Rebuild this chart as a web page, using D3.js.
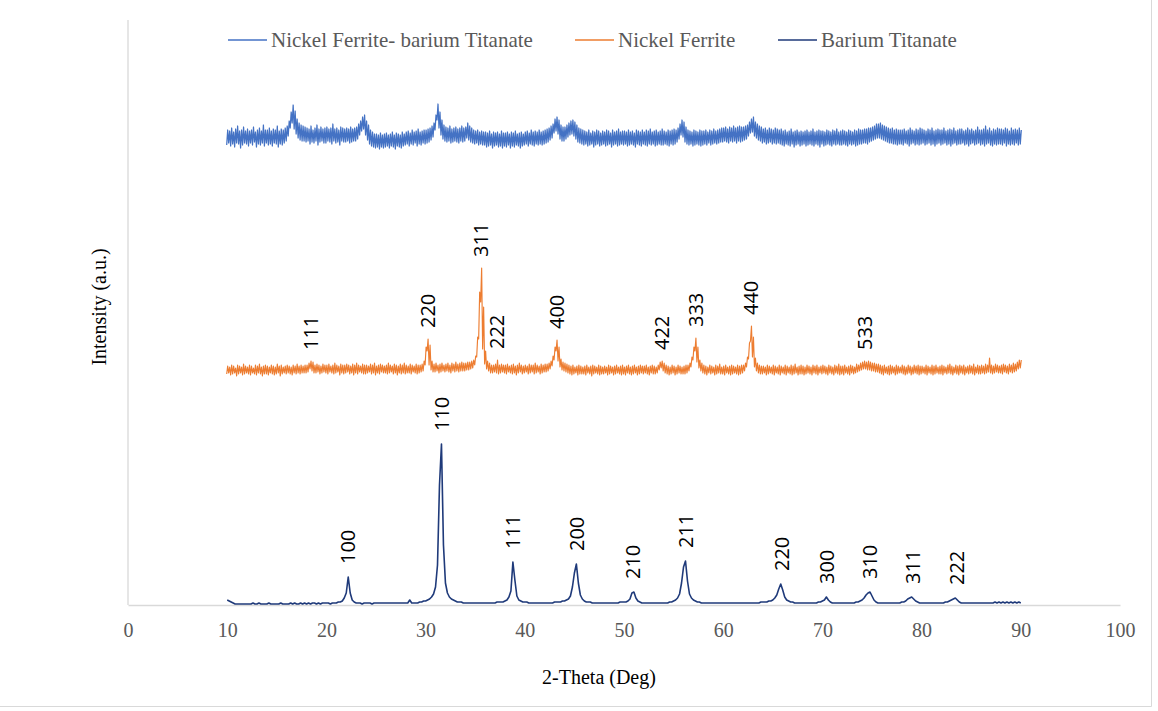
<!DOCTYPE html>
<html>
<head>
<meta charset="utf-8">
<script src="https://cdn.jsdelivr.net/npm/d3@7"></script>
<style>
  body { margin: 0; background: #fff; }
  svg { display: block; }
</style>
</head>
<body>
<svg id="chart" width="1158" height="711"></svg>
<script>
// Scan grid: 10° to 90° in 0.2° bins (401 bins per pattern)
const thetaStart = 10;
const thetaStep = 0.2;

// Nickel Ferrite - Barium Titanate composite: max / min counts in each bin (a.u.)
const compositeHigh = [
  20,19,22,18,21,24,19,20,23,19,
  21,19,20,23,18,20,22,19,25,20,
  20,22,19,21,20,24,19,21,20,22,
  24,29,38,45,39,31,27,25,24,23,
  22,21,24,20,22,25,21,23,21,22,
  23,21,22,26,21,22,20,23,22,21,
  22,21,23,21,22,23,26,29,33,35,
  29,25,20,18,16,16,15,17,15,16,
  17,15,16,18,15,17,16,15,18,16,
  18,19,17,20,18,19,21,18,19,20,
  20,21,22,24,27,35,46,38,30,25,
  23,22,24,21,22,23,21,22,24,22,
  23,27,24,22,20,19,20,18,19,18,
  18,17,19,16,18,17,18,16,19,17,
  17,18,16,18,17,19,16,17,18,16,
  18,19,17,20,18,19,18,20,18,19,
  20,21,22,24,26,31,33,30,25,23,
  23,25,27,29,30,28,25,22,21,20,
  19,18,20,17,19,18,20,19,17,19,
  18,20,19,17,20,18,19,21,18,19,
  19,18,20,18,19,17,20,19,18,20,
  18,20,19,21,18,19,20,18,19,21,
  19,18,20,19,20,21,20,22,26,30,
  28,23,20,19,18,20,19,18,20,19,
  19,20,18,20,19,21,19,20,21,22,
  22,23,21,23,22,24,22,23,24,23,
  23,24,25,28,31,33,28,26,24,23,
  21,22,20,22,21,20,22,21,20,21,
  19,20,18,19,21,18,19,20,18,19,
  18,19,20,18,19,21,18,19,20,19,
  19,18,20,19,18,20,19,21,18,19,
  20,19,18,20,19,18,20,19,21,20,
  20,21,21,22,22,23,24,26,26,27,
  25,24,23,22,21,22,20,21,20,20,
  20,21,19,20,22,20,19,21,20,22,
  21,20,19,21,20,22,19,20,21,20,
  20,22,19,20,21,20,22,19,20,21,
  21,19,20,22,20,21,19,20,23,20,
  20,21,24,20,22,19,21,20,22,21,
  21,20,22,21,19,22,20,21,20,22,
  20
];
const compositeLow = [
  5,7,4,6,3,7,6,2,5,7,
  6,4,7,5,8,3,6,5,7,4,
  7,5,6,4,7,6,3,6,5,7,
  9,14,22,27,21,16,12,10,9,9,
  8,9,6,8,7,9,5,8,9,7,
  7,9,8,6,9,7,8,5,9,8,
  8,9,7,8,9,9,11,15,19,21,
  15,10,6,4,3,2,3,1,3,2,
  3,4,2,4,3,1,4,3,2,4,
  5,6,4,6,5,7,4,6,5,7,
  6,7,8,10,13,20,30,22,15,11,
  9,8,9,7,8,9,8,7,9,8,
  9,12,10,8,7,6,7,5,6,5,
  5,3,4,5,2,4,5,3,4,2,
  4,3,5,2,4,3,5,4,2,4,
  5,6,4,6,5,4,6,5,6,5,
  6,7,8,10,12,17,19,16,11,9,
  9,11,13,15,16,14,11,8,7,6,
  5,6,4,5,6,3,5,6,4,5,
  6,4,5,6,3,5,6,4,5,6,
  5,6,4,5,6,5,3,6,5,4,
  6,5,4,6,5,6,4,5,6,5,
  5,6,5,4,6,5,6,8,11,15,
  13,8,6,5,6,4,5,6,5,4,
  5,6,5,7,5,6,7,6,7,8,
  8,9,8,7,9,8,9,7,9,8,
  9,10,11,14,17,18,14,12,10,9,
  7,8,6,7,8,6,7,6,7,6,
  5,4,6,5,4,6,3,5,6,4,
  5,6,4,5,6,5,4,6,5,3,
  6,4,5,6,5,4,6,5,6,5,
  5,6,5,4,6,5,6,4,5,6,
  6,7,7,6,8,9,10,11,12,12,
  11,10,9,8,7,7,6,6,5,6,
  6,5,7,6,4,6,7,5,6,5,
  6,7,5,6,7,5,6,4,6,7,
  5,6,7,5,6,4,6,7,5,6,
  6,7,5,6,4,6,7,5,6,7,
  5,6,4,6,7,5,4,6,5,6,
  6,5,7,4,6,5,6,5,7,5,
  6
];

// Nickel Ferrite: max / min counts in each bin (a.u.)
const ferriteHigh = [
  11,10,12,11,9,12,11,10,13,11,
  10,12,11,9,12,11,13,10,11,12,
  11,10,12,11,10,13,11,12,10,11,
  12,11,10,12,11,13,11,12,11,12,
  12,14,16,15,12,13,12,11,13,12,
  12,13,11,12,14,12,11,13,12,12,
  13,12,11,13,12,14,12,11,13,12,
  12,11,13,12,14,11,12,13,12,11,
  12,14,12,11,13,12,11,13,12,14,
  12,11,13,12,11,13,12,12,13,16,
  30,38,32,16,13,14,12,13,14,12,
  13,14,12,14,13,15,13,14,15,14,
  14,15,15,16,17,21,40,85,109,70,
  26,16,14,12,12,13,17,12,13,12,
  12,13,11,12,13,11,12,14,12,11,
  12,11,13,12,12,14,12,11,13,12,
  13,13,14,16,21,30,37,30,18,15,
  14,13,12,11,12,10,11,12,11,10,
  11,12,10,11,12,11,10,12,11,10,
  11,10,12,11,10,11,12,10,11,12,
  10,11,12,10,11,12,10,11,12,11,
  11,12,10,11,12,11,10,12,15,16,
  14,12,11,10,12,11,10,12,11,10,
  11,12,12,14,20,30,39,30,17,14,
  12,11,10,12,11,10,12,11,13,10,
  11,12,10,11,12,11,10,12,11,12,
  12,14,20,34,51,40,19,14,12,11,
  11,10,12,11,10,12,11,10,12,11,
  10,12,11,10,12,11,13,10,11,12,
  11,10,12,11,10,12,11,12,10,11,
  12,11,10,12,11,10,12,11,13,11,
  11,12,10,11,12,11,10,13,12,14,
  15,16,15,16,15,14,14,13,13,12,
  11,12,10,11,12,11,10,12,11,10,
  12,11,10,12,11,10,12,11,12,11,
  11,10,12,11,10,12,11,12,10,11,
  12,11,10,12,13,11,10,12,11,12,
  11,12,10,11,12,11,13,10,12,11,
  12,11,13,12,19,12,11,13,12,11,
  12,13,12,11,13,12,14,13,15,17,
  17
];
const ferriteLow = [
  3,4,2,3,4,1,3,4,2,3,
  4,3,2,4,3,2,4,3,1,3,
  3,2,4,3,2,3,4,1,3,4,
  3,4,3,2,4,3,4,3,4,4,
  4,5,8,6,4,4,5,3,4,5,
  4,3,5,4,3,4,5,2,4,3,
  4,5,3,4,2,4,3,5,4,3,
  3,4,5,3,4,2,4,3,5,4,
  4,3,4,5,3,4,2,4,3,4,
  3,4,4,3,5,4,3,4,5,6,
  12,26,12,7,5,5,6,4,5,6,
  5,6,5,4,6,5,6,5,6,6,
  6,7,7,8,9,12,20,38,75,28,
  13,8,6,4,4,5,4,3,4,5,
  4,3,5,4,3,4,2,4,5,3,
  4,5,3,4,5,3,4,5,3,4,
  5,5,6,8,11,17,26,16,10,7,
  6,5,4,3,2,3,4,2,3,3,
  3,2,4,3,1,3,4,3,2,3,
  3,4,2,3,4,2,3,4,3,2,
  3,2,4,3,2,3,4,2,3,4,
  3,4,3,2,4,3,3,4,7,9,
  6,4,3,2,3,4,2,3,4,3,
  3,3,4,6,10,17,26,15,9,6,
  4,3,2,4,3,4,2,3,4,3,
  3,2,4,3,2,3,4,3,2,3,
  4,6,10,18,36,20,10,6,4,3,
  3,4,2,3,4,3,2,4,3,2,
  4,3,2,4,3,2,3,4,2,3,
  3,2,3,4,3,2,4,3,2,4,
  3,4,3,2,4,3,2,4,3,2,
  3,2,4,3,2,4,3,4,5,6,
  7,8,8,7,7,6,6,5,5,4,
  3,2,4,3,2,3,4,2,3,4,
  4,3,2,3,4,2,3,4,3,2,
  3,4,3,2,4,3,2,3,4,3,
  3,2,4,3,4,3,2,4,3,2,
  4,3,2,4,3,4,3,2,4,3,
  3,4,3,4,5,4,3,4,5,4,
  4,3,5,4,3,5,4,5,6,8,
  9
];

// Barium Titanate counts per bin (a.u.)
const titanateIntensity = [
  5,4,3,2,1,1,1,1,1,1,
  1,1,1,2,1,1,2,1,1,1,
  1,2,1,1,1,1,1,2,1,1,
  1,1,2,1,2,1,1,2,1,2,
  1,2,1,2,2,1,2,1,2,2,
  2,2,1,2,2,2,3,3,4,7,
  12,28,12,5,3,2,2,2,1,2,
  2,2,2,1,2,2,2,2,2,2,
  2,2,2,2,2,2,2,2,2,2,
  2,2,5,2,2,2,2,3,3,4,
  4,5,6,8,11,18,40,120,161,60,
  22,12,8,6,5,4,3,3,3,2,
  2,2,2,2,2,2,2,2,2,2,
  2,2,2,2,2,2,3,3,3,3,
  4,5,8,14,43,25,9,5,4,3,
  3,3,2,2,2,2,2,2,2,2,
  2,2,2,2,2,3,3,3,3,4,
  4,5,6,9,18,32,41,22,10,6,
  4,3,3,3,2,2,2,2,2,2,
  2,2,2,2,2,2,2,2,3,3,
  3,3,4,6,12,13,7,4,3,2,
  2,2,2,2,2,2,2,2,2,2,
  2,2,2,3,3,4,5,7,11,22,
  38,44,24,11,7,5,4,3,3,2,
  2,2,2,2,2,2,2,2,2,2,
  2,2,2,2,2,2,2,2,2,2,
  2,2,2,2,2,2,2,2,2,3,
  3,3,3,4,4,5,7,10,16,21,
  15,8,5,4,3,3,2,2,2,2,
  2,2,2,2,2,2,2,2,3,3,
  4,5,8,5,3,2,2,2,2,2,
  2,2,2,2,2,2,2,3,3,4,
  5,7,10,12,13,9,5,3,2,2,
  2,2,2,2,2,2,2,2,2,2,
  3,3,4,6,7,8,6,4,3,2,
  2,2,2,2,2,2,2,2,2,2,
  2,2,3,3,4,5,6,7,5,3,
  2,2,2,2,2,2,2,2,2,2,
  2,2,2,2,2,2,2,3,2,3,
  2,3,2,3,2,3,2,3,2,3,
  2
];

// Vertical stacking offsets of the three patterns (a.u.)
const compositeOffset = 455;
const ferriteOffset = 228;
const titanateOffset = 0;

// Miller indices marked on the peaks
const ferriteHkl = ["111", "220", "311", "222", "400", "422", "333", "440", "533"];
const ferriteHklTheta = [18.4, 30.2, 35.6, 37.2, 43.2, 53.8, 57.2, 62.8, 74.3];
const titanateHkl = ["100", "110", "111", "200", "210", "211", "220", "300", "310", "311", "222"];
const titanateHklTheta = [22.2, 31.6, 38.8, 45.2, 50.9, 56.2, 65.9, 70.4, 74.8, 79.1, 83.5];

const xTicks = [0, 10, 20, 30, 40, 50, 60, 70, 80, 90, 100];
const seriesNames = ["Nickel Ferrite- barium Titanate", "Nickel Ferrite", "Barium Titanate"];
const seriesColors = ["#4472C4", "#ED7D31", "#1F3A7A"];

const svg = d3.select("#chart");

const x = d3.scaleLinear().domain([0, 100]).range([128, 1120]);
const y = d3.scaleLinear().domain([0, 585]).range([605, 20]);

const binTheta = i => thetaStart + i * thetaStep;

// Dense scan drawn as a min/max trace: low then high inside every bin
const envelopePoints = (high, low, offset) =>
  high.flatMap((h, i) => [
    { t: binTheta(i) - thetaStep / 4, v: low[i] + offset },
    { t: binTheta(i) + thetaStep / 4, v: h + offset }
  ]);
const samplePoints = (arr, offset) =>
  arr.map((v, i) => ({ t: binTheta(i), v: v + offset }));

const series = [
  { pts: envelopePoints(compositeHigh, compositeLow, compositeOffset), color: seriesColors[0], w: 1.25 },
  { pts: envelopePoints(ferriteHigh, ferriteLow, ferriteOffset), color: seriesColors[1], w: 1.15 },
  { pts: samplePoints(titanateIntensity, titanateOffset), color: seriesColors[2], w: 1.6 }
];

const gridColor = "#D9D9D9";

// Chart frame edges
svg.append("line").attr("x1", 1151.5).attr("x2", 1151.5).attr("y1", 0).attr("y2", 706.5)
  .attr("stroke", gridColor).attr("stroke-width", 1);
svg.append("line").attr("x1", 0).attr("x2", 1151.5).attr("y1", 706.5).attr("y2", 706.5)
  .attr("stroke", gridColor).attr("stroke-width", 1);

// Axes (axis lines only, no tick marks)
svg.append("line")
  .attr("x1", x(0)).attr("x2", x(0))
  .attr("y1", y(585)).attr("y2", y(0))
  .attr("stroke", gridColor).attr("stroke-width", 1.3);

const xAxis = d3.axisBottom(x).tickValues(xTicks).tickSize(0).tickPadding(18)
  .tickFormat(d3.format("d"));
const gx = svg.append("g").attr("transform", `translate(0,${y(0)})`).call(xAxis);
gx.select(".domain").attr("stroke", gridColor).attr("stroke-width", 1.3);
gx.selectAll("text")
  .attr("font-family", "'Liberation Serif', 'Times New Roman', serif")
  .attr("font-size", 20)
  .attr("fill", "#595959");

// Pattern traces
const line = d3.line().x(d => x(d.t)).y(d => y(d.v));
series.forEach(s => {
  svg.append("path")
    .datum(s.pts)
    .attr("fill", "none")
    .attr("stroke", s.color)
    .attr("stroke-width", s.w)
    .attr("stroke-linejoin", "round")
    .attr("d", line);
});

// hkl labels placed above the local maximum of each peak
function peakTop(arr, offset, theta) {
  const i0 = Math.round((theta - 0.4 - thetaStart) / thetaStep);
  const i1 = Math.round((theta + 0.4 - thetaStart) / thetaStep);
  return d3.max(arr.slice(i0, i1 + 1)) + offset;
}
function addHkl(labels, thetas, arr, offset, gap) {
  labels.forEach((lab, k) => {
    const px = x(thetas[k]);
    const py = y(peakTop(arr, offset, thetas[k])) - gap;
    svg.append("text")
      .attr("transform", `translate(${px},${py}) rotate(-90)`)
      .attr("dy", "0.36em")
      .attr("font-family", "'Open Sans', 'Liberation Sans', sans-serif")
      .attr("font-size", 20)
      .attr("fill", "#000")
      .text(lab);
  });
}
addHkl(ferriteHkl, ferriteHklTheta, ferriteHigh, ferriteOffset, 11);
addHkl(titanateHkl, titanateHklTheta, titanateIntensity, titanateOffset, 13);

// Axis titles
svg.append("text")
  .attr("x", 599).attr("y", 684)
  .attr("text-anchor", "middle")
  .attr("font-family", "'Liberation Serif', 'Times New Roman', serif")
  .attr("font-size", 20)
  .attr("fill", "#000")
  .text("2-Theta (Deg)");

svg.append("text")
  .attr("transform", "translate(106,307) rotate(-90)")
  .attr("text-anchor", "middle")
  .attr("font-family", "'Liberation Serif', 'Times New Roman', serif")
  .attr("font-size", 20)
  .attr("fill", "#000")
  .text("Intensity (a.u.)");

// Legend
const legendX = [228, 575, 778];
const legend = svg.append("g");
seriesNames.forEach((name, k) => {
  const g = legend.append("g").attr("transform", `translate(${legendX[k]},40)`);
  g.append("line").attr("x1", 0).attr("x2", 39).attr("y1", 0).attr("y2", 0)
    .attr("stroke", seriesColors[k]).attr("stroke-width", 1.6);
  g.append("text").attr("x", 43).attr("dy", "0.33em")
    .attr("font-family", "'Liberation Serif', 'Times New Roman', serif")
    .attr("font-size", 21)
    .attr("fill", "#595959")
    .text(name);
});
</script>
</body>
</html>
